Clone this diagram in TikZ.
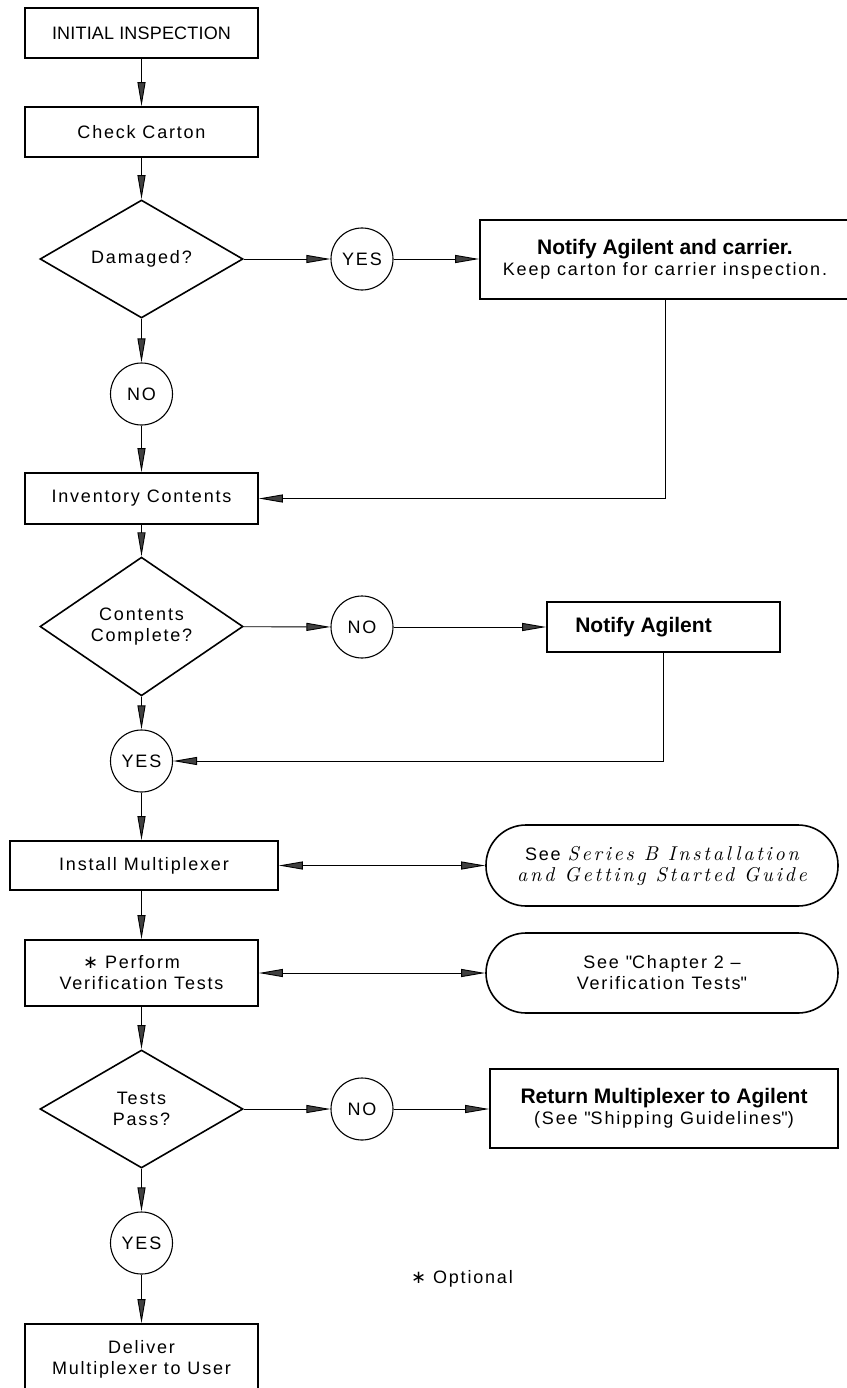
\documentclass[tikz,border=0pt]{standalone}
\usepackage{fontspec}
\setmainfont[LetterSpace=10]{Liberation Sans}
\newfontfamily\boldfont{Liberation Sans}
\newfontfamily\symfont{DejaVu Sans}
\newfontfamily\guidefont[LetterSpace=14]{lmroman10-italic.otf}
\usepackage{tikz}
\usetikzlibrary{shapes.geometric}
\usetikzlibrary{arrows.meta}
\usetikzlibrary{positioning}
\newcommand\cadsize{\fontsize{18pt}{21pt}\selectfont}
\newcommand\headline[1]{{\boldfont\bfseries\fontsize{21pt}{24pt}\selectfont #1}}
\newcommand\guide[1]{{\guidefont\fontsize{20pt}{21pt}\selectfont #1}}
\newcommand\opt{{\symfont ∗}}

\begin{document}
\begin{tikzpicture}[x=1pt,y=-1pt,
  every node/.style={font=\cadsize},
  stepbox/.style={draw,line width=1.6pt,minimum width=233pt,minimum height=50pt,inner sep=0pt,align=center},
  query/.style={draw,diamond,line width=1.6pt,minimum width=203pt,minimum height=118pt,inner sep=0pt,align=center},
  answer/.style={draw,circle,line width=1.1pt,minimum size=62pt,inner sep=0pt},
  refer/.style={draw,rounded corners=40pt,line width=1.6pt,minimum width=352pt,minimum height=81pt,inner sep=0pt,align=center},
  flow/.style={line width=0.9pt,-{Triangle[length=24pt,width=8pt,fill=darkgray]}},
  both/.style={line width=0.9pt,{Triangle[length=24pt,width=8pt,fill=darkgray]}-{Triangle[length=24pt,width=8pt,fill=darkgray]}}]
\useasboundingbox (0,0) rectangle (846,1388);

\node[stepbox] (init) at (141.5,33) {\addfontfeature{LetterSpace=1}INITIAL INSPECTION};
\node[stepbox] (check) at (141.5,132) {Check Carton};
\node[query] (dmg) at (141.5,259) {Damaged?};
\node[answer] (yes1) at (362,259) {YES};
\node[stepbox,minimum width=370pt,minimum height=79pt] (notify1) at (665,259.5)
  {\headline{Notify Agilent and carrier.}\\Keep carton for carrier inspection.};
\node[answer] (no1) at (141.5,394) {NO};
\node[stepbox,minimum height=51pt] (inv) at (141.5,498.5) {Inventory Contents};
\node[query,minimum height=117pt] (cc) at (141.5,626.5) {Contents\\Complete?};
\node[answer] (no2) at (362,627) {NO};
\node[stepbox] (notify2) at (663.5,627) {\headline{Notify Agilent}\hspace*{40pt}};
\node[answer] (yes2) at (141.5,761) {YES};
\node[stepbox,minimum width=268pt,minimum height=49pt] (install) at (144,865.5) {Install Multiplexer};
\node[refer] (see1) at (662,865.5) {See \guide{Series B Installation}\\\guide{and Getting Started Guide}};
\node[stepbox,minimum height=66pt] (perform) at (141.5,973) {\opt{} Perform\hspace*{20pt}\\Verification Tests};
\node[refer,minimum height=80pt] (see2) at (662,973) {See \textquotedbl Chapter 2 –\\Verification Tests\textquotedbl};
\node[query] (tp) at (141.5,1109) {Tests\\Pass?};
\node[answer] (no3) at (362,1109) {NO};
\node[stepbox,minimum width=348pt,minimum height=79pt] (ret) at (664,1108.5)
  {\headline{Return Multiplexer to Agilent}\\(See \textquotedbl Shipping Guidelines\textquotedbl)};
\node[answer] (yes3) at (141.5,1243) {YES};
\node[stepbox,minimum height=70pt] (deliver) at (141.5,1359) {Deliver\\Multiplexer to User};
\node (optional) at (462,1279) {\opt{} Optional};

\draw[flow] (init) -- (check);
\draw[flow] (check) -- (dmg);
\draw[flow] (dmg) -- (yes1);
\draw[flow] (yes1) -- (yes1 -| notify1.west);
\draw[flow] (dmg) -- (no1);
\draw[flow] (no1) -- (inv);
\draw[flow] (notify1.south) |- (inv.east);
\draw[flow] (inv) -- (cc);
\draw[flow] (cc) -- (no2);
\draw[flow] (no2) -- (notify2);
\draw[flow] (cc) -- (yes2);
\draw[flow] (notify2.south) |- (yes2.east);
\draw[flow] (yes2) -- (yes2 |- install.north);
\draw[both] (install) -- (see1);
\draw[flow] (perform |- install.south) -- (perform);
\draw[both] (perform) -- (see2);
\draw[flow] (perform) -- (tp);
\draw[flow] (tp) -- (no3);
\draw[flow] (no3) -- (no3 -| ret.west);
\draw[flow] (tp) -- (yes3);
\draw[flow] (yes3) -- (deliver);
\end{tikzpicture}
\end{document}
